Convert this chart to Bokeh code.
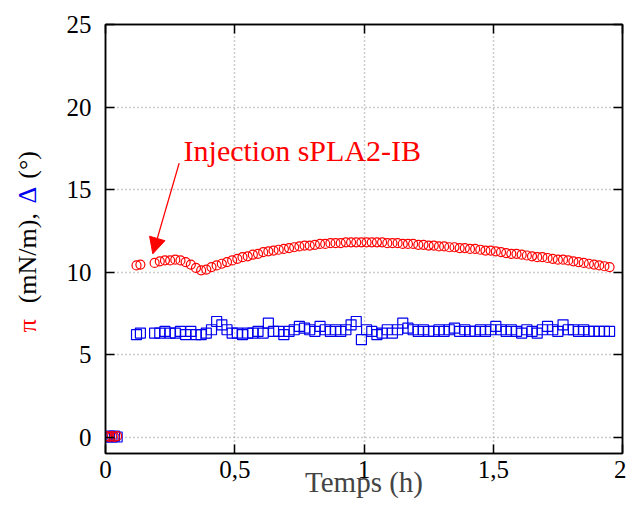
import math
from bokeh.plotting import figure
from bokeh.layouts import row
from bokeh.models import Label, Arrow, NormalHead, LinearAxis, FixedTicker, Range1d
from bokeh.core.properties import value
from bokeh.embed import file_html
from bokeh.resources import INLINE

# ---------------- data ----------------
x_start = [0.005, 0.015, 0.025, 0.035, 0.045, 0.12, 0.135]
pi_start = [0.05, 0.0, 0.05, 0.0, 0.05, 10.4, 10.45]
delta_start = [0.0, 0.05, 0.0, 0.05, 0.0, 6.2, 6.3]

x_main = [0.19, 0.21, 0.23, 0.25, 0.27, 0.29, 0.31, 0.33, 0.35, 0.37,
          0.39, 0.41, 0.43, 0.45, 0.47, 0.49, 0.51, 0.53, 0.55, 0.57,
          0.59, 0.61, 0.63, 0.65, 0.67, 0.69, 0.71, 0.73, 0.75, 0.77,
          0.79, 0.81, 0.83, 0.85, 0.87, 0.89, 0.91, 0.93, 0.95, 0.97,
          0.99, 1.01, 1.03, 1.05, 1.07, 1.09, 1.11, 1.13, 1.15, 1.17,
          1.19, 1.21, 1.23, 1.25, 1.27, 1.29, 1.31, 1.33, 1.35, 1.37,
          1.39, 1.41, 1.43, 1.45, 1.47, 1.49, 1.51, 1.53, 1.55, 1.57,
          1.59, 1.61, 1.63, 1.65, 1.67, 1.69, 1.71, 1.73, 1.75, 1.77,
          1.79, 1.81, 1.83, 1.85, 1.87, 1.89, 1.91, 1.93, 1.95]

pi_main = [10.55, 10.65, 10.7, 10.7, 10.75, 10.7, 10.6, 10.45, 10.25, 10.1,
           10.15, 10.3, 10.4, 10.5, 10.6, 10.7, 10.8, 10.9, 10.95, 11.05,
           11.1, 11.2, 11.25, 11.3, 11.35, 11.4, 11.45, 11.5, 11.55, 11.6,
           11.6, 11.65, 11.7, 11.7, 11.75, 11.75, 11.75, 11.8, 11.8, 11.8,
           11.8, 11.8, 11.8, 11.8, 11.8, 11.75, 11.75, 11.75, 11.7, 11.7,
           11.7, 11.65, 11.65, 11.6, 11.6, 11.55, 11.55, 11.5, 11.5, 11.45,
           11.45, 11.4, 11.4, 11.35, 11.3, 11.3, 11.25, 11.2, 11.15, 11.1,
           11.1, 11.05, 11.0, 10.95, 10.9, 10.9, 10.85, 10.8, 10.75, 10.75,
           10.7, 10.65, 10.6, 10.55, 10.5, 10.45, 10.4, 10.35, 10.3]

delta_main = [6.3, 6.3, 6.4, 6.3, 6.3, 6.4, 6.2, 6.4, 6.2, 6.2,
              6.3, 6.5, 7.0, 6.8, 6.5, 6.3, 6.3, 6.2, 6.3, 6.3,
              6.4, 6.3, 6.9, 6.4, 6.4, 6.2, 6.4, 6.5, 6.7, 6.6,
              6.5, 6.4, 6.7, 6.5, 6.4, 6.5, 6.4, 6.5, 6.8, 7.0,
              5.9, 6.5, 6.4, 6.2, 6.3, 6.5, 6.3, 6.5, 6.9, 6.6,
              6.5, 6.4, 6.5, 6.4, 6.4, 6.5, 6.4, 6.5, 6.6, 6.4,
              6.5, 6.4, 6.4, 6.5, 6.4, 6.5, 6.7, 6.5, 6.4, 6.5,
              6.4, 6.3, 6.5, 6.4, 6.3, 6.5, 6.7, 6.5, 6.4, 6.8,
              6.5, 6.5, 6.4, 6.5, 6.4, 6.4, 6.4, 6.4, 6.4]

x_ticks = [0, 0.5, 1, 1.5, 2]
x_tick_labels = ["0", "0,5", "1", "1,5", "2"]
y_ticks = [0, 5, 10, 15, 20, 25]

annotation_text = "Injection sPLA2-IB"
arrow_from = (0.285, 16.6)
arrow_to = (0.183, 11.1)
annotation_pos = (0.302, 17.35)

# y label pieces, drawn in a narrow side panel (y = value where each piece starts)
ylab_text = ["π", "(mN/m),", "Δ", "(°)"]
ylab_color = ["#ff0000", "black", "#0000ee", "black"]
ylab_y = [6.35, 8.1, 14.15, 15.65]

# ---------------- figures ----------------
FONT = "Liberation Serif"
RED = "#ff0000"
BLUE = "#0000ee"
LEFT_W = 50
TOP_B = 24
BOT_B = 67
H = 520

# side panel with the multicoloured, rotated y-axis title
side = figure(width=LEFT_W, height=H, output_backend="svg", toolbar_location=None,
              x_range=Range1d(0, LEFT_W), y_range=Range1d(-1, 25),
              x_axis_type=None, y_axis_type=None,
              min_border_left=0, min_border_right=0,
              min_border_top=TOP_B, min_border_bottom=BOT_B)
side.outline_line_color = None
side.grid.visible = False
side.text(x=[27] * len(ylab_text), y=ylab_y, text=ylab_text, text_color=ylab_color,
          angle=math.pi / 2, text_font=value(FONT), text_font_size="26px",
          text_align="left", text_baseline="middle")

p = figure(width=626 - LEFT_W, height=H, output_backend="svg", toolbar_location=None,
           x_range=Range1d(0, 2), y_range=Range1d(-1, 25),
           min_border_left=105 - LEFT_W, min_border_right=4, min_border_top=TOP_B,
           min_border_bottom=BOT_B)
p.background_fill_color = "white"
p.border_fill_color = "white"
p.outline_line_color = "black"
p.outline_line_width = 1.5

# right and top axes with inward ticks only, no labels
for loc, ticks in (("right", y_ticks), ("above", x_ticks)):
    a = LinearAxis(ticker=FixedTicker(ticks=ticks),
                   major_label_overrides={t: "" for t in ticks},
                   major_tick_in=9, major_tick_out=0, major_tick_line_width=1.5,
                   minor_tick_line_color=None, axis_line_width=1.5,
                   major_label_standoff=0)
    p.add_layout(a, loc)

xa = p.below[0]
ya = p.left[0]
for ax in (xa, ya):
    ax.axis_line_color = "black"
    ax.axis_line_width = 1.5
    ax.major_tick_in = 9
    ax.major_tick_out = 0
    ax.major_tick_line_width = 1.5
    ax.minor_tick_line_color = None
    ax.major_label_text_font = FONT
    ax.major_label_text_font_size = "25px"
    ax.major_label_text_color = "black"

xa.ticker = FixedTicker(ticks=x_ticks)
xa.major_label_overrides = {t: l for t, l in zip(x_ticks, x_tick_labels)}
xa.major_label_standoff = 7
xa.axis_label = "Temps (h)"
xa.axis_label_text_font = FONT
xa.axis_label_text_font_size = "29px"
xa.axis_label_text_font_style = "normal"
xa.axis_label_standoff = -15

ya.ticker = FixedTicker(ticks=y_ticks)
ya.major_label_standoff = 14

for g in (p.xgrid[0], p.ygrid[0]):
    g.grid_line_color = "#999999"
    g.grid_line_dash = "1 3"
    g.grid_line_width = 1.5
p.xgrid[0].ticker = FixedTicker(ticks=x_ticks)
p.ygrid[0].ticker = FixedTicker(ticks=y_ticks)

# data
p.scatter(x_start + x_main, delta_start + delta_main, marker="square", size=10,
          fill_color=None, line_color=BLUE, line_width=1.2)
p.scatter(x_start + x_main, pi_start + pi_main, marker="circle", size=9,
          fill_color=None, line_color=RED, line_width=1.2)

# annotation
p.add_layout(Arrow(end=NormalHead(size=16, fill_color=RED, line_color=RED),
                   x_start=arrow_from[0], y_start=arrow_from[1],
                   x_end=arrow_to[0], y_end=arrow_to[1],
                   line_color=RED, line_width=1.3))
p.add_layout(Label(x=annotation_pos[0], y=annotation_pos[1], text=annotation_text,
                   text_font=FONT, text_font_size="30px", text_color=RED,
                   text_baseline="alphabetic", text_align="left"))

layout = row(side, p, spacing=0)
open("out.html", "w").write(file_html(layout, INLINE))
